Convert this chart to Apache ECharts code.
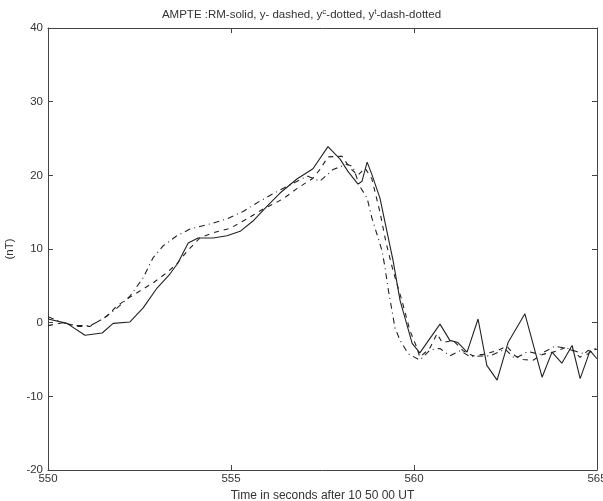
<!DOCTYPE html>
<html>
<head>
<meta charset="UTF-8">
<title>AMPTE RM</title>
<script src="https://cdn.jsdelivr.net/npm/echarts@6/dist/echarts.min.js"></script>
<style>
body { margin: 0; background: #fff; }
#chart { width: 603px; height: 501px; }
</style>
</head>
<body>
<div id="chart"></div>
<script type="text/javascript">
// RM - solid
var rmT = [550.00, 550.52, 551.01, 551.48, 551.78, 552.24, 552.60, 552.98, 553.33, 553.55, 553.83, 554.10,
	554.51, 554.89, 555.25, 555.60, 555.98, 556.34, 556.80, 557.24, 557.65, 557.98, 558.20, 558.47, 558.58,
	558.72, 558.85, 559.07, 559.26, 559.43, 559.62, 559.95, 560.16, 560.71, 560.98, 561.20, 561.45, 561.75,
	561.99, 562.27, 562.57, 563.03, 563.50, 563.77, 564.04, 564.32, 564.54, 564.81, 565.00];
var rmV = [0.5, -0.1, -1.7, -1.4, -0.1, 0.1, 2.0, 4.7, 6.6, 8.1, 10.8, 11.5,
	11.5, 11.8, 12.4, 13.8, 15.8, 17.6, 19.5, 20.9, 23.9, 22.2, 20.5, 18.8, 19.2,
	21.8, 20.1, 16.9, 12.4, 8.4, 3.0, -2.8, -4.1, -0.2, -2.4, -2.7, -4.0, 0.5,
	-5.8, -7.8, -2.7, 1.2, -7.4, -4.0, -5.5, -3.1, -7.6, -3.8, -4.9];

// y - dashed
var yT = [550.00, 550.41, 550.79, 551.15, 551.61, 551.89, 552.16, 552.51, 552.87, 553.25, 553.52, 553.80,
	554.15, 554.51, 554.97, 555.44, 555.87, 556.42, 556.80, 557.24, 557.43, 557.65, 558.03, 558.25, 558.47,
	558.66, 558.85, 559.07, 559.23, 559.43, 559.67, 559.89, 560.08, 560.16, 560.44, 560.63, 560.77, 561.07,
	561.34, 561.61, 561.89, 562.27, 562.54, 562.76, 562.98, 563.25, 563.52, 563.80, 564.13, 564.34, 564.54,
	564.75, 565.00];
var yV = [-0.4, 0.0, -0.5, -0.5, 0.9, 2.3, 3.2, 4.3, 5.4, 6.8, 8.0, 9.7,
	11.5, 12.2, 12.8, 14.1, 15.4, 16.8, 18.2, 19.6, 20.8, 22.5, 22.6, 21.0, 20.0,
	21.0, 19.5, 15.0, 11.0, 7.0, 3.0, -1.1, -3.4, -4.7, -3.4, -1.5, -2.7, -2.4,
	-3.8, -4.5, -4.3, -3.8, -3.2, -4.5, -5.0, -5.1, -4.3, -4.0, -3.4, -3.8, -4.7,
	-3.8, -3.6];

// y^t - dash-dotted
var ytT = [550.00, 550.41, 550.79, 551.15, 551.50, 551.89, 552.24, 552.60, 552.87, 553.14, 553.52, 553.88,
	554.43, 554.89, 555.33, 555.79, 556.26, 556.69, 557.08, 557.43, 557.79, 558.17, 558.33, 558.52, 558.72,
	558.85, 559.02, 559.13, 559.21, 559.29, 559.40, 559.48, 559.62, 559.84, 560.16, 560.44, 560.71, 560.98,
	561.26, 561.53, 562.08, 562.49, 562.76, 563.11, 563.44, 563.85, 564.21, 564.48, 564.73, 565.00];
var ytV = [0.8, 0.0, -0.4, -0.4, 0.5, 2.0, 3.6, 6.1, 8.8, 10.4, 11.8, 12.7,
	13.4, 14.1, 15.1, 16.5, 17.8, 18.9, 19.9, 19.2, 20.8, 21.5, 21.2, 18.5, 16.9,
	14.2, 11.5, 9.7, 7.4, 4.7, 1.6, -0.7, -2.4, -4.2, -5.1, -3.7, -3.5, -4.5,
	-3.8, -4.6, -4.5, -3.6, -4.9, -3.9, -4.3, -3.2, -3.5, -4.0, -4.3, -3.3];

var xTicks = [550, 555, 560, 565];
var yTicks = [-20, -10, 0, 10, 20, 30, 40];

function pairs(t, v) {
	var out = [];
	for (var i = 0; i < t.length; i++) {
		out.push([t[i], v[i]]);
	}
	return out;
}

var myChart = echarts.init(document.getElementById("chart"));
var axisColor = '#444';
var font = 'Liberation Sans, Arial, sans-serif';

var option = {
	backgroundColor: '#fff',
	animation: false,
	title: {
		text: 'AMPTE :RM-solid, y- dashed, y{s|c}-dotted, y{s|t}-dash-dotted',
		left: 'center',
		top: 3,
		textStyle: {
			fontFamily: font,
			fontSize: 11.5,
			fontWeight: 'normal',
			color: '#333',
			rich: {
				s: { fontSize: 8, verticalAlign: 'top', padding: [0, 0, 5, 0], color: '#333', fontFamily: font }
			}
		}
	},
	grid: {
		left: 48,
		right: 6,
		top: 28,
		bottom: 31,
		outerBoundsMode: 'none'
	},
	xAxis: [{
		type: 'value',
		min: xTicks[0],
		max: xTicks[xTicks.length - 1],
		interval: 5,
		name: 'Time in seconds after 10 50 00 UT',
		nameLocation: 'middle',
		nameGap: 20,
		nameTextStyle: { fontFamily: font, fontSize: 12, color: '#333' },
		axisLine: { onZero: false, lineStyle: { color: axisColor, width: 1 } },
		axisTick: { inside: true, length: 5, lineStyle: { color: axisColor } },
		axisLabel: { fontFamily: font, fontSize: 11.5, color: '#333', margin: 3 },
		splitLine: { show: false }
	}, {
		type: 'value',
		position: 'top',
		min: xTicks[0],
		max: xTicks[xTicks.length - 1],
		interval: 5,
		axisLine: { show: true, onZero: false, lineStyle: { color: axisColor, width: 1 } },
		axisTick: { show: true, inside: true, length: 5, lineStyle: { color: axisColor } },
		axisLabel: { show: false },
		splitLine: { show: false }
	}],
	yAxis: [{
		type: 'value',
		min: yTicks[0],
		max: yTicks[yTicks.length - 1],
		interval: 10,
		name: '(nT)',
		nameLocation: 'middle',
		nameGap: 31,
		nameTextStyle: { fontFamily: font, fontSize: 11.5, color: '#333' },
		axisLine: { show: true, onZero: false, lineStyle: { color: axisColor, width: 1 } },
		axisTick: { show: true, inside: true, length: 5, lineStyle: { color: axisColor } },
		axisLabel: { fontFamily: font, fontSize: 11.5, color: '#333', margin: 5 },
		splitLine: { show: false }
	}, {
		type: 'value',
		position: 'right',
		min: yTicks[0],
		max: yTicks[yTicks.length - 1],
		interval: 10,
		axisLine: { show: true, onZero: false, lineStyle: { color: axisColor, width: 1 } },
		axisTick: { show: true, inside: true, length: 5, lineStyle: { color: axisColor } },
		axisLabel: { show: false },
		splitLine: { show: false }
	}],
	series: [{
		name: 'RM',
		type: 'line',
		data: pairs(rmT, rmV),
		showSymbol: false,
		lineStyle: { color: '#222', width: 1.1, type: 'solid' },
		z: 3
	}, {
		name: 'y',
		type: 'line',
		data: pairs(yT, yV),
		showSymbol: false,
		lineStyle: { color: '#222', width: 1.1, type: [5, 5] }
	}, {
		name: 'yt',
		type: 'line',
		data: pairs(ytT, ytV),
		showSymbol: false,
		lineStyle: { color: '#222', width: 1.1, type: [6, 4, 1, 4] }
	}]
};
myChart.setOption(option);
</script>
</body>
</html>
